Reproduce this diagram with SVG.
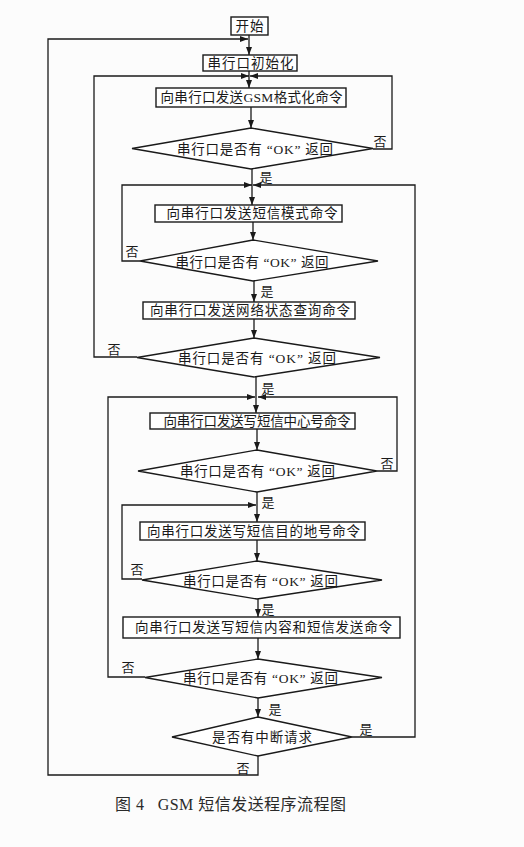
<svg xmlns="http://www.w3.org/2000/svg" width="524" height="847" viewBox="0 0 524 847">
<defs>
<marker id="arr" markerUnits="userSpaceOnUse" markerWidth="9" markerHeight="7" refX="8" refY="3" orient="auto">
<path d="M0,0 L8,3 L0,6 z" fill="#1a1a1a"/>
</marker>
<style>
.bx{fill:#fff;stroke:#1a1a1a;stroke-width:1.4}
.dm{fill:#fff;stroke:#1a1a1a;stroke-width:1.3}
.ln{fill:none;stroke:#1a1a1a;stroke-width:1.3}
.ar{fill:none;stroke:#1a1a1a;stroke-width:1.3;marker-end:url(#arr)}
.t{font-family:"Liberation Serif","Noto Sans CJK SC",serif;font-size:13.5px;fill:#1a1a1a;text-anchor:middle;dominant-baseline:central}
.lb{font-family:"Noto Sans CJK SC",serif;font-size:13px;fill:#1a1a1a;text-anchor:middle;dominant-baseline:central}
.cap{font-family:"Liberation Serif","Noto Sans CJK SC",serif;font-size:16px;fill:#2a2a2a;dominant-baseline:central;white-space:pre}
</style>
</defs>
<rect width="524" height="847" fill="#fcfcfc"/>
<g id="connectors">
<path class="ar" d="M249,35 V55"/>
<path class="ar" d="M258,756 V775 H48 V39 H248"/>
<path class="ar" d="M249,71 V88"/>
<path class="ar" d="M137,357 H94 V76 H249"/>
<path class="ar" d="M373,149 H392 V76 H250"/>
<path class="ar" d="M251,107 V128"/>
<path class="ar" d="M252,169 V205"/>
<path class="ar" d="M140,261 H122 V185 H252"/>
<path class="ar" d="M352,737 H415 V185 H253"/>
<path class="ar" d="M253,222 V240"/>
<path class="ar" d="M254,281 V302"/>
<path class="ar" d="M254,319 V338"/>
<path class="ar" d="M256,377 V413"/>
<path class="ar" d="M145,677 H108 V397 H255"/>
<path class="ar" d="M377,471 H397 V397 H258"/>
<path class="ar" d="M257,429 V450"/>
<path class="ar" d="M257,492 V522"/>
<path class="ar" d="M142,579 H122 V505 H256"/>
<path class="ar" d="M257,540 V561"/>
<path class="ar" d="M258,599 V617"/>
<path class="ar" d="M258,638 V659"/>
<path class="ar" d="M258,698 V717"/>
<text class="lb" x="380" y="140">否</text>
<text class="lb" x="266" y="176">是</text>
<text class="lb" x="132" y="250">否</text>
<text class="lb" x="267" y="290">是</text>
<text class="lb" x="114" y="348">否</text>
<text class="lb" x="268" y="387">是</text>
<text class="lb" x="387" y="462">否</text>
<text class="lb" x="268" y="501">是</text>
<text class="lb" x="137" y="568">否</text>
<text class="lb" x="268" y="608">是</text>
<text class="lb" x="128" y="666">否</text>
<text class="lb" x="275" y="708">是</text>
<text class="lb" x="366" y="728">是</text>
<text class="lb" x="243" y="767">否</text>
</g>
<g id="start">
<rect class="bx" x="231" y="17" width="37" height="18"/>
<text class="t" x="249.5" y="26" textLength="28" lengthAdjust="spacing">开始</text>
</g>
<g id="init">
<rect class="bx" x="203" y="55" width="94" height="16"/>
<text class="t" x="250.5" y="63" textLength="86" lengthAdjust="spacing">串行口初始化</text>
</g>
<g id="gsm-format">
<rect class="bx" x="156" y="88" width="190" height="19"/>
<text class="t" x="251.5" y="97.5" textLength="182" lengthAdjust="spacing">向串行口发送GSM格式化命令</text>
</g>
<g id="check1">
<polygon class="dm" points="251,128 373,148.5 251,169 132,148.5"/>
<text class="t" x="255" y="149" textLength="156" lengthAdjust="spacing">串行口是否有 “OK” 返回</text>
</g>
<g id="sms-mode">
<rect class="bx" x="155" y="205" width="187" height="17"/>
<text class="t" x="252" y="213.5" textLength="171" lengthAdjust="spacing">向串行口发送短信模式命令</text>
</g>
<g id="check2">
<polygon class="dm" points="253,240 378,261 253,281 140,261"/>
<text class="t" x="252" y="262" textLength="153" lengthAdjust="spacing">串行口是否有 “OK” 返回</text>
</g>
<g id="net-query">
<rect class="bx" x="143" y="302" width="212" height="17"/>
<text class="t" x="250" y="310.5" textLength="200" lengthAdjust="spacing">向串行口发送网络状态查询命令</text>
</g>
<g id="check3">
<polygon class="dm" points="254,338 380,357.5 254,377 137,357.5"/>
<text class="t" x="257" y="358" textLength="158" lengthAdjust="spacing">串行口是否有 “OK” 返回</text>
</g>
<g id="center-number">
<rect class="bx" x="150" y="413" width="205" height="16"/>
<text class="t" x="257" y="421" textLength="187" lengthAdjust="spacing">向串行口发送写短信中心号命令</text>
</g>
<g id="check4">
<polygon class="dm" points="257,450 377,471 257,492 138,471"/>
<text class="t" x="257.5" y="471" textLength="155" lengthAdjust="spacing">串行口是否有 “OK” 返回</text>
</g>
<g id="dest-number">
<rect class="bx" x="140" y="522" width="225" height="18"/>
<text class="t" x="253.5" y="531" textLength="213" lengthAdjust="spacing">向串行口发送写短信目的地号命令</text>
</g>
<g id="check5">
<polygon class="dm" points="257,561 382,580 257,599 142,580"/>
<text class="t" x="260.5" y="581" textLength="155" lengthAdjust="spacing">串行口是否有 “OK” 返回</text>
</g>
<g id="content-send">
<rect class="bx" x="123" y="617" width="277" height="21"/>
<text class="t" x="263.5" y="627.5" textLength="257" lengthAdjust="spacing">向串行口发送写短信内容和短信发送命令</text>
</g>
<g id="check6">
<polygon class="dm" points="258,659 382,677.5 258,698 145,677.5"/>
<text class="t" x="260.5" y="678" textLength="155" lengthAdjust="spacing">串行口是否有 “OK” 返回</text>
</g>
<g id="interrupt">
<polygon class="dm" points="258,717 352,737 258,756 172,737"/>
<text class="t" x="262" y="737" textLength="100" lengthAdjust="spacing">是否有中断请求</text>
</g>
<g id="caption">
<text class="cap" x="115" y="804" xml:space="preserve" textLength="231" lengthAdjust="spacing">图 4   GSM 短信发送程序流程图</text>
</g>
</svg>
